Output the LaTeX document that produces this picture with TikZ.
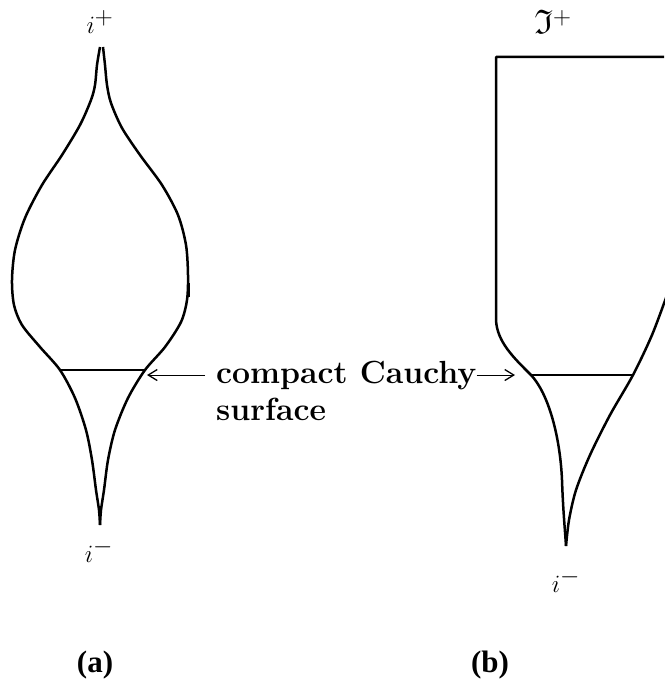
\documentclass[tikz,border=0pt]{standalone}
\usepackage{amsmath,amssymb}
\usepackage{fontspec}
\newfontfamily\capfont{Liberation Serif}
\usetikzlibrary{arrows.meta,positioning}

\begin{document}
\begin{tikzpicture}[x=1pt, y=-1pt,
  wall/.style={line width=2.5pt, line join=round},
  slice/.style={line width=2.7pt},
  arr/.style={-{Straight Barb[length=9pt,width=11pt,line width=1.3pt]}, line width=0.9pt},
  lbl/.style={font=\fontsize{34}{38}\selectfont, inner sep=0pt},
  txt/.style={font=\fontsize{32}{37}\selectfont\bfseries, inner sep=0pt, anchor=base west},
  figtag/.style={font=\fontsize{31}{36}\selectfont\capfont\bfseries, inner sep=0pt}
]
\useasboundingbox (0,0) rectangle (664,695);

%% (a) closed universe
\draw[wall] plot[smooth, tension=0.5] coordinates {
  (100,47) (97,65) (95,85) (91,100) (80,125) (62,155) (42,185) (25,218)
  (15,250) (12,280) (14,305) (22,325) (40,347) (60,370) (75,398)
  (86,430) (92,460) (96,490) (99,510) (100,525)};
\draw[wall] plot[smooth, tension=0.5] coordinates {
  (103,47) (105,65) (107,85) (111,103) (122,128) (140,155) (162,185)
  (178,215) (186,245) (188,275) (187,300) (181,322) (165,347) (145,370)
  (128,398) (115,430) (108,460) (104,490) (101,510) (100,525)};
\draw[wall] (189,283) -- (189,297);

\coordinate (aL) at (60,370);
\coordinate (aR) at (145,370);
\draw[slice] (aL) -- (aR);

\node[lbl] (ipA) at (100,22) {$i^{+}$};
\node[lbl] (imA) at (99,551) {$i^{-}$};

%% (b) open universe
\draw[wall] (664,57) -- (496,57) -- (496,320)
  .. controls (497,342) and (514,358) .. (531,375)
  .. controls (548,393) and (560,435) .. (562,480)
  .. controls (563,510) and (565,530) .. (566,546);
\draw[wall] plot[smooth, tension=0.5] coordinates {
  (667,295) (652,335) (633,375) (610,415) (590,455) (576,490) (569,520)
  (566,546)};

\coordinate (bL) at (531,375);
\coordinate (bR) at (633,375);
\draw[slice] (bL) -- (bR);

\node[lbl] (scriB) at (553,22) {$\mathfrak{I}^{+}$};
\node[lbl] (imB) at (566,581) {$i^{-}$};

%% label and arrows
\coordinate (aTip) at (147,372);
\coordinate (bTip) at (515,372);
\node[txt] (cpt) at (216,383) {compact Cauchy};
\node[txt] (surf) at (216,420) {surface};
\draw[arr, shorten <=11pt] (cpt.west) -- (cpt.west -| aTip);
\draw[arr] (cpt.east) -- (cpt.east -| bTip);

\node[figtag] (capA) at (95,665) {(a)};
\node[figtag] (capB) at (490,665) {(b)};

\end{tikzpicture}
\end{document}
